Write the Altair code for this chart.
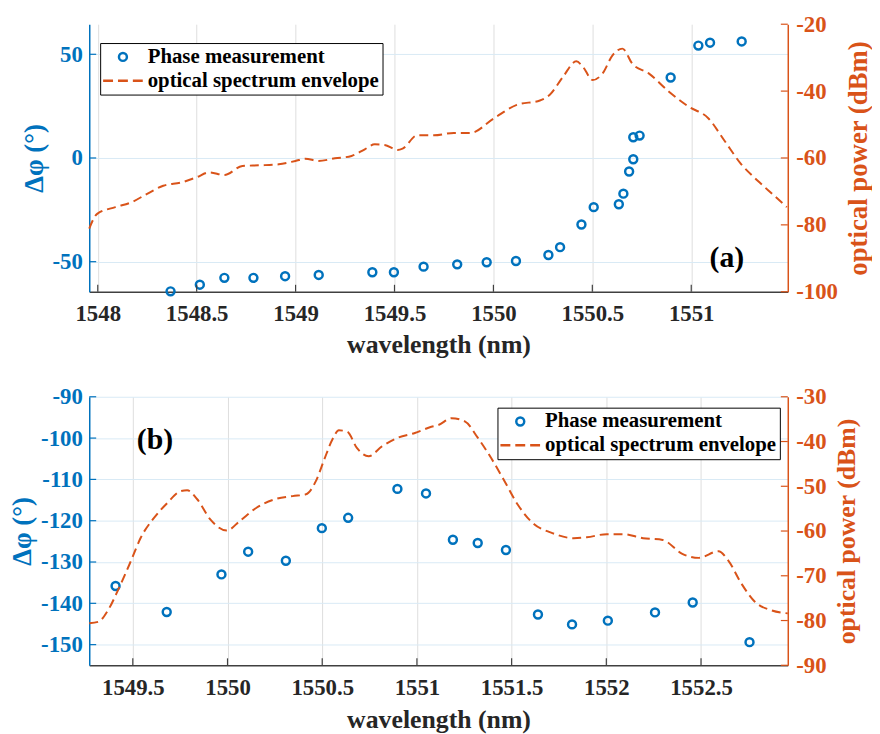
import altair as alt
import pandas as pd

FONT = "Liberation Serif, Times New Roman, Times, serif"
BLUE = "#0072BD"
ORANGE = "#D95319"
DARK = "#262626"
GRID_X = "#dedede"
GRID_Y = "#d9eaf5"

SERIES = ["Phase measurement", "optical spectrum envelope"]
# legend glyph for the dashed envelope (three dashes), circle for the phase points
DASH_PATH = "M-5,0H-2.5M-1.25,0H1.25M2.5,0H5"

# ---------------- panel (a) ----------------
a_phase_wl = [1548.368, 1548.516, 1548.640, 1548.787, 1548.947, 1549.117, 1549.388,
              1549.497, 1549.647, 1549.817, 1549.966, 1550.114, 1550.278, 1550.337,
              1550.445, 1550.507, 1550.634, 1550.657, 1550.686, 1550.707, 1550.707,
              1550.739, 1550.896, 1551.036, 1551.095, 1551.255]
a_phase = [-64.3, -61.1, -57.8, -57.8, -57.0, -56.4, -55.1,
           -55.1, -52.4, -51.3, -50.3, -49.7, -46.8, -43.0,
           -32.1, -23.7, -22.3, -17.2, -6.5, -0.6, 10.0,
           10.8, 38.8, 54.2, 55.6, 56.2]
a_env_wl = [1547.957, 1547.997, 1548.089, 1548.172, 1548.247, 1548.331, 1548.423,
            1548.498, 1548.565, 1548.640, 1548.731, 1548.815, 1548.915, 1548.999,
            1549.049, 1549.116, 1549.199, 1549.283, 1549.350, 1549.400, 1549.450,
            1549.516, 1549.541, 1549.616, 1549.700, 1549.800, 1549.884, 1550.001,
            1550.118, 1550.235, 1550.285, 1550.352, 1550.419, 1550.452, 1550.502,
            1550.552, 1550.602, 1550.652, 1550.702, 1550.785, 1550.886, 1550.986,
            1551.086, 1551.170, 1551.253, 1551.336, 1551.420, 1551.483]
a_env = [-81.1, -76.7, -74.7, -73.2, -70.8, -68.3, -67.3,
         -65.8, -64.3, -65.1, -62.4, -62.2, -61.9, -60.9,
         -60.2, -60.9, -60.1, -59.4, -57.4, -55.9, -56.1,
         -57.6, -57.2, -53.2, -53.2, -52.5, -52.5, -48.2,
         -44.1, -42.8, -41.1, -35.7, -31.1, -32.7, -36.7,
         -34.7, -29.3, -27.3, -31.8, -34.7, -40.1, -44.6,
         -48.1, -55.0, -61.9, -66.8, -71.3, -74.7]
a_xticks = [1548, 1548.5, 1549, 1549.5, 1550, 1550.5, 1551]
a_lticks = [-50, 0, 50]
a_rticks = [-100, -80, -60, -40, -20]
a_xdom = [1547.957, 1551.488]
a_ldom = [-64.5, 64.5]
a_rdom = [-100, -20]
a_tag = ["(a)"]
a_tag_wl = [1551.18]
a_tag_v = [-48.2]

# ---------------- panel (b) ----------------
b_phase_wl = [1549.409, 1549.679, 1549.968, 1550.109, 1550.308, 1550.498, 1550.637,
              1550.897, 1551.048, 1551.190, 1551.321, 1551.470, 1551.639, 1551.819,
              1552.008, 1552.257, 1552.456, 1552.756]
b_phase = [-135.8, -142.1, -133.0, -127.5, -129.7, -121.8, -119.3,
           -112.3, -113.4, -124.6, -125.4, -127.1, -142.7, -145.1,
           -144.2, -142.2, -139.8, -149.4]
b_env_wl = [1549.270, 1549.317, 1549.369, 1549.422, 1549.491, 1549.543, 1549.613,
            1549.683, 1549.752, 1549.787, 1549.840, 1549.909, 1549.996, 1550.066,
            1550.153, 1550.258, 1550.344, 1550.414, 1550.467, 1550.510, 1550.553,
            1550.588, 1550.632, 1550.684, 1550.745, 1550.815, 1550.902, 1550.989,
            1551.076, 1551.113, 1551.183, 1551.253, 1551.322, 1551.392, 1551.462,
            1551.531, 1551.619, 1551.705, 1551.828, 1551.897, 1552.002, 1552.089,
            1552.194, 1552.298, 1552.401, 1552.487, 1552.592, 1552.644, 1552.714,
            1552.784, 1552.871, 1552.958]
b_env = [-80.6, -80.3, -77.7, -73.2, -66.6, -61.4, -57.0,
         -53.7, -51.1, -50.9, -52.9, -57.4, -59.9, -57.7,
         -54.8, -52.8, -52.2, -51.8, -48.8, -44.1, -39.6,
         -37.5, -37.8, -41.5, -43.3, -41.1, -39.1, -38.1,
         -36.7, -36.3, -34.8, -35.5, -39.2, -43.7, -48.8,
         -54.0, -58.5, -60.3, -61.6, -61.4, -60.7, -60.7,
         -61.6, -62.0, -65.1, -66.0, -64.5, -66.6, -71.8,
         -75.8, -77.7, -78.4]
b_xticks = [1549.5, 1550, 1550.5, 1551, 1551.5, 1552, 1552.5]
b_lticks = [-150, -140, -130, -120, -110, -100, -90]
b_rticks = [-90, -80, -70, -60, -50, -40, -30]
b_xdom = [1549.27, 1552.958]
b_ldom = [-155, -90]
b_rdom = [-90, -30]
b_tag = ["(b)"]
b_tag_wl = [1549.617]
b_tag_v = [-100.4]

W = 705
TICK = 7
LABEL_EXPR = "toString(datum.value)"


def panel(phase_wl, phase, env_wl, env, xticks, lticks, rticks, xdom, ldom, rdom,
          tag, tag_wl, tag_v, H, legend_x, legend_y, rtitle_size, xtitle_pad):
    pts = pd.DataFrame({"wl": phase_wl, "v": phase, "series": SERIES[0]})
    env_df = pd.DataFrame({"wl": env_wl, "p": env})
    tag_df = pd.DataFrame({"wl": tag_wl, "v": tag_v, "t": tag})

    xscale = alt.Scale(domain=xdom, nice=False, zero=False)
    lscale = alt.Scale(domain=ldom, nice=False, zero=False)
    rscale = alt.Scale(domain=rdom, nice=False, zero=False)

    xaxis = alt.Axis(values=xticks, labelExpr=LABEL_EXPR, title="wavelength (nm)",
                     grid=True, gridColor=GRID_X, gridWidth=1,
                     ticks=False, tickSize=0, domainColor="#404040", domainWidth=1.5,
                     labelColor=DARK, labelFont=FONT, labelFontSize=23,
                     labelFontWeight="bold", labelPadding=11, labelFlush=False,
                     labelOverlap=False, titleColor=DARK, titleFont=FONT,
                     titleFontSize=26, titleFontWeight="bold", titlePadding=xtitle_pad)
    laxis = alt.Axis(values=lticks, labelExpr=LABEL_EXPR, title="Δφ (°)",
                     grid=True, gridColor=GRID_Y, gridWidth=1,
                     ticks=False, tickSize=0, domainColor=BLUE, domainWidth=1.5,
                     labelColor=BLUE, labelFont=FONT, labelFontSize=23,
                     labelFontWeight="bold", labelPadding=7, labelFlush=False,
                     labelOverlap=False, titleColor=BLUE, titleFont=FONT,
                     titleFontSize=27, titleFontWeight="bold", titlePadding=4)
    raxis = alt.Axis(orient="right", values=rticks, labelExpr=LABEL_EXPR,
                     title="optical power (dBm)", grid=False,
                     ticks=False, tickSize=0, domainColor=ORANGE, domainWidth=1.5,
                     labelColor=ORANGE, labelFont=FONT, labelFontSize=23,
                     labelFontWeight="bold", labelPadding=8, labelFlush=False,
                     labelOverlap=False, titleColor=ORANGE, titleFont=FONT,
                     titleFontSize=rtitle_size, titleFontWeight="bold",
                     titleAngle=270, titleBaseline="top", titlePadding=8)
    legend = alt.Legend(title=None, orient="none", legendX=legend_x, legendY=legend_y,
                        direction="vertical", fillColor="white", strokeColor="black",
                        padding=3.5, labelFont=FONT, labelFontSize=21,
                        labelFontWeight="bold", labelColor="black", labelLimit=400,
                        symbolSize=64, symbolStrokeWidth=2.5, symbolOffset=9,
                        labelOffset=14.5, rowPadding=2)

    points = alt.Chart(pts).mark_point(filled=False, size=64, strokeWidth=2.5,
                                       opacity=1).encode(
        x=alt.X("wl:Q", scale=xscale, axis=xaxis),
        y=alt.Y("v:Q", scale=lscale, axis=laxis),
        color=alt.Color("series:N", scale=alt.Scale(domain=SERIES, range=[BLUE, ORANGE]),
                        legend=legend),
        shape=alt.Shape("series:N", scale=alt.Scale(domain=SERIES,
                                                    range=["circle", DASH_PATH]),
                        legend=legend),
    )
    tag_mark = alt.Chart(tag_df).mark_text(font=FONT, fontSize=30, fontWeight="bold",
                                           color="black").encode(
        x=alt.X("wl:Q", scale=xscale, axis=xaxis),
        y=alt.Y("v:Q", scale=lscale, axis=laxis),
        text="t:N",
    )
    lt = alt.Chart(pd.DataFrame({"v": lticks})).mark_rule(color=BLUE, strokeWidth=1.2).encode(
        y=alt.Y("v:Q", scale=lscale, axis=laxis),
        x=alt.value(0), x2=alt.value(TICK),
    )
    xt = alt.Chart(pd.DataFrame({"wl": xticks})).mark_rule(color="#404040", strokeWidth=1.2).encode(
        x=alt.X("wl:Q", scale=xscale, axis=xaxis),
        y=alt.value(H - TICK), y2=alt.value(H),
    )
    line = alt.Chart(env_df).mark_line(color=ORANGE, strokeWidth=2, strokeDash=[9, 5],
                                       interpolate="monotone").encode(
        x=alt.X("wl:Q", scale=xscale, axis=xaxis),
        y=alt.Y("p:Q", scale=rscale, axis=raxis),
    )
    rt = alt.Chart(pd.DataFrame({"p": rticks})).mark_rule(color=ORANGE, strokeWidth=1.2).encode(
        y=alt.Y("p:Q", scale=rscale, axis=raxis),
        x=alt.value(W - TICK), x2=alt.value(W),
    )
    left = alt.layer(points, tag_mark, lt, xt)
    right = alt.layer(line, rt)
    return alt.layer(left, right).resolve_scale(y="independent").properties(width=W, height=H)


top = panel(a_phase_wl, a_phase, a_env_wl, a_env, a_xticks, a_lticks, a_rticks,
            a_xdom, a_ldom, a_rdom, a_tag, a_tag_wl, a_tag_v, 270, 11, 19, 27, 6)
bottom = panel(b_phase_wl, b_phase, b_env_wl, b_env, b_xticks, b_lticks, b_rticks,
               b_xdom, b_ldom, b_rdom, b_tag, b_tag_wl, b_tag_v, 271, 412, 11, 26, 8)

chart = alt.vconcat(top, bottom, spacing=106, bounds="flush").resolve_scale(
    x="independent", y="independent", color="independent", shape="independent"
).resolve_legend(color="independent", shape="independent").properties(
    padding={"left": 0, "top": 2, "right": 0, "bottom": 0},
    background="white",
).configure_view(stroke=None)

chart.save("out.html", embed_options={"renderer": "svg", "actions": False})
